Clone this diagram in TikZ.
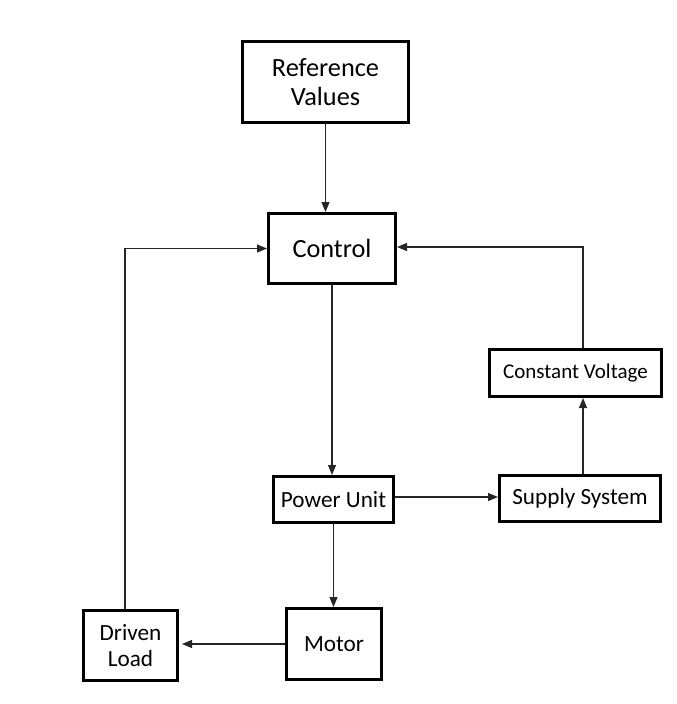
\documentclass[tikz,border=0pt]{standalone}
\usepackage{fontspec}
\setmainfont{Carlito}
\usetikzlibrary{arrows.meta}
\tikzset{
  blk/.style={draw=black, line width=3pt, fill=white, align=center, inner sep=0pt, anchor=center},
  arr/.style={draw=black!85, line width=1.2pt, -{Triangle[length=10pt,width=8pt]}},
  big/.style={font=\fontsize{26.3}{28.5}\selectfont},
  mid/.style={font=\fontsize{23.2}{25.5}\selectfont},
  sml/.style={font=\fontsize{21}{24}\selectfont}
}
\begin{document}
\begin{tikzpicture}[x=1pt,y=-1pt]
\useasboundingbox (0,0) rectangle (677,704);
\node[blk,big,minimum width=166pt,minimum height=81pt] (ref) at (325.5,82) {Reference\\Values};
\node[blk,big,minimum width=127pt,minimum height=70pt] (ctrl) at (332,248.5) {Control};
\node[blk,mid,minimum width=120pt,minimum height=46pt] (pu) at (333.5,499.5) {Power Unit};
\node[blk,mid,minimum width=161pt,minimum height=46pt] (sup) at (580,498.5) {Supply System};
\node[blk,sml,minimum width=172pt,minimum height=47pt] (cv) at (575.5,373) {Constant Voltage};
\node[blk,mid,minimum width=95pt,minimum height=71pt] (mot) at (334,644) {Motor};
\node[blk,mid,minimum width=94pt,minimum height=70pt] (dl) at (130.5,645.5) {Driven\\Load};
\draw[arr] (ref.south) -- (ref.south |- ctrl.north);
\draw[arr] (ctrl.south) -- (ctrl.south |- pu.north);
\draw[arr] (pu.south) -- (pu.south |- mot.north);
\draw[arr] ([yshift=2.5pt]pu.east) -- ([yshift=2.5pt]pu.east -| sup.west);
\draw[arr] ([xshift=3pt]sup.north) -- ([xshift=3pt]sup.north |- cv.south);
\draw[arr] ([xshift=7.5pt]cv.north) |- ([yshift=1.5pt]ctrl.east);
\draw[arr, shorten >=3pt] (mot.west) -- (mot.west -| dl.east);
\draw[arr] ([xshift=-5.5pt]dl.north) |- (ctrl.west);
\end{tikzpicture}
\end{document}
